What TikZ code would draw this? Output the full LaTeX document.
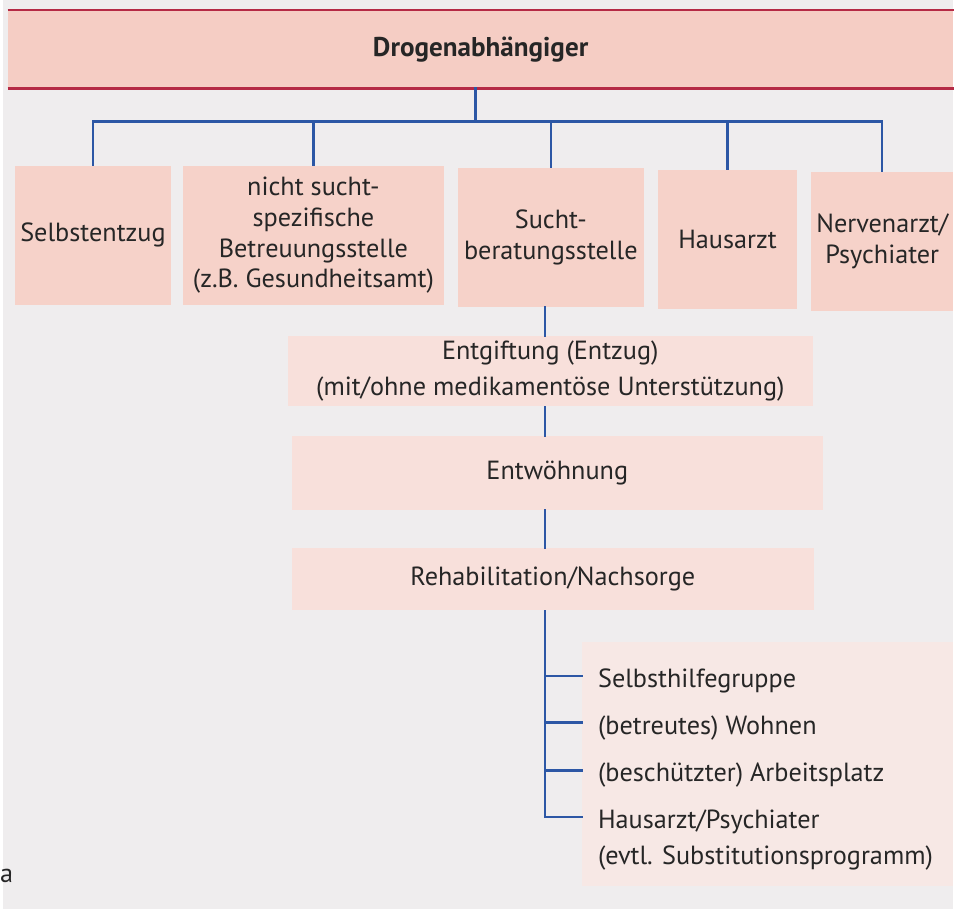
\documentclass[tikz,border=0pt]{standalone}
\usepackage{fontspec}
\setmainfont{PT Sans}
\usetikzlibrary{positioning}
\definecolor{paper}{HTML}{EFEDEE}
\definecolor{ink}{HTML}{262626}
\definecolor{rosebar}{HTML}{F5CDC4}
\definecolor{rosebox}{HTML}{F6D2C9}
\definecolor{roselow}{HTML}{F8E0DB}
\definecolor{rosepale}{HTML}{F7E8E5}
\definecolor{barline}{HTML}{B52A45}
\definecolor{treeblue}{HTML}{2C57A5}
\tikzset{
  box/.style={fill=rosebox,inner sep=0pt,align=center,anchor=north west,
    text=ink,font=\fontsize{15}{17.6}\selectfont},
  head/.style={box,fill=rosebar,font=\fontsize{15.5}{18}\selectfont\bfseries},
  stage/.style={box,fill=roselow,font=\fontsize{15}{20.5}\selectfont},
  item/.style={anchor=west,align=left,inner sep=0pt,text=ink,
    font=\fontsize{15}{20.5}\selectfont},
  link/.style={draw=treeblue,line width=0.5mm,line cap=rect},
  rim/.style={draw=barline,line width=0.5mm}
}
\begin{document}
\begin{tikzpicture}[x=0.2mm,y=-0.2mm]
  \fill[paper] (0,0) rectangle (955,913);
  \node[head,minimum width=190mm,minimum height=15.6mm] (drug) at (5,10) {Drogenabhängiger};
  \draw[rim] (drug.north west) -- (drug.north east);
  \draw[rim] (drug.south west) -- (drug.south east);
  % first contacts
  \node[box,minimum width=31.4mm,minimum height=28mm] (self) at (12,166) {Selbstentzug};
  \node[box,minimum width=52.4mm,minimum height=28mm] (care) at (181,166)
    {nicht sucht-\\spezifische\\Betreuungsstelle\\(z.B. Gesundheitsamt)};
  \node[box,minimum width=37.4mm,minimum height=28mm] (advice) at (457,168) {Sucht-\\beratungsstelle};
  \node[box,minimum width=28mm,minimum height=28mm] (gp) at (658,170) {Hausarzt};
  \node[box,minimum width=28.6mm,minimum height=28mm] (psych) at (812,172) {Nervenarzt/\\Psychiater};
  \coordinate (hub) at (475,122);
  \draw[link] (drug.south -| hub) -- (hub);
  \draw[link] (self.north |- hub) -- (psych.north |- hub);
  \foreach \b in {self,care,advice,gp,psych}
    \draw[link] (\b.north |- hub) -- (\b.north);
  % treatment chain
  \coordinate (spine) at (545,0);
  \node[stage,minimum width=105.6mm,minimum height=14.2mm] (detox) at (286,337)
    {Entgiftung (Entzug)\\(mit/ohne medikamentöse Unterstützung)};
  \node[stage,minimum width=106.8mm,minimum height=14.8mm] (wean) at (290,438) {Entwöhnung};
  \node[stage,minimum width=105mm,minimum height=12.6mm] (rehab) at (290,550) {Rehabilitation/Nachsorge};
  \foreach \a/\b in {advice/detox,detox/wean,wean/rehab}
    \draw[link] (spine |- \a.south) -- (spine |- \b.north);
  % aftercare list
  \node[box,fill=rosepale,minimum width=74.6mm,minimum height=49mm] (after) at (582,645) {};
  \foreach \y/\n in {679/1,726/2,774/3,821/4}
    \coordinate (k\n) at (0,\y);
  \draw[link] (spine |- rehab.south) |- (after.west |- k4);
  \foreach \n/\t in {1/{Selbsthilfegruppe},2/{(betreutes) Wohnen},3/{(beschützter) Arbeitsplatz}}{
    \node[item,yshift=-1mm] (i\n) at (598,0 |- k\n) {\t};
    \draw[link] (spine |- k\n) -- (after.west |- k\n);
  }
  \node[item] (i4) at (598,844) {Hausarzt/Psychiater\\(evtl. Substitutionsprogramm)};
  \node[text=ink,inner sep=0pt,font=\fontsize{15}{17}\selectfont] (tag) at (4,880) {a};
\end{tikzpicture}
\end{document}
